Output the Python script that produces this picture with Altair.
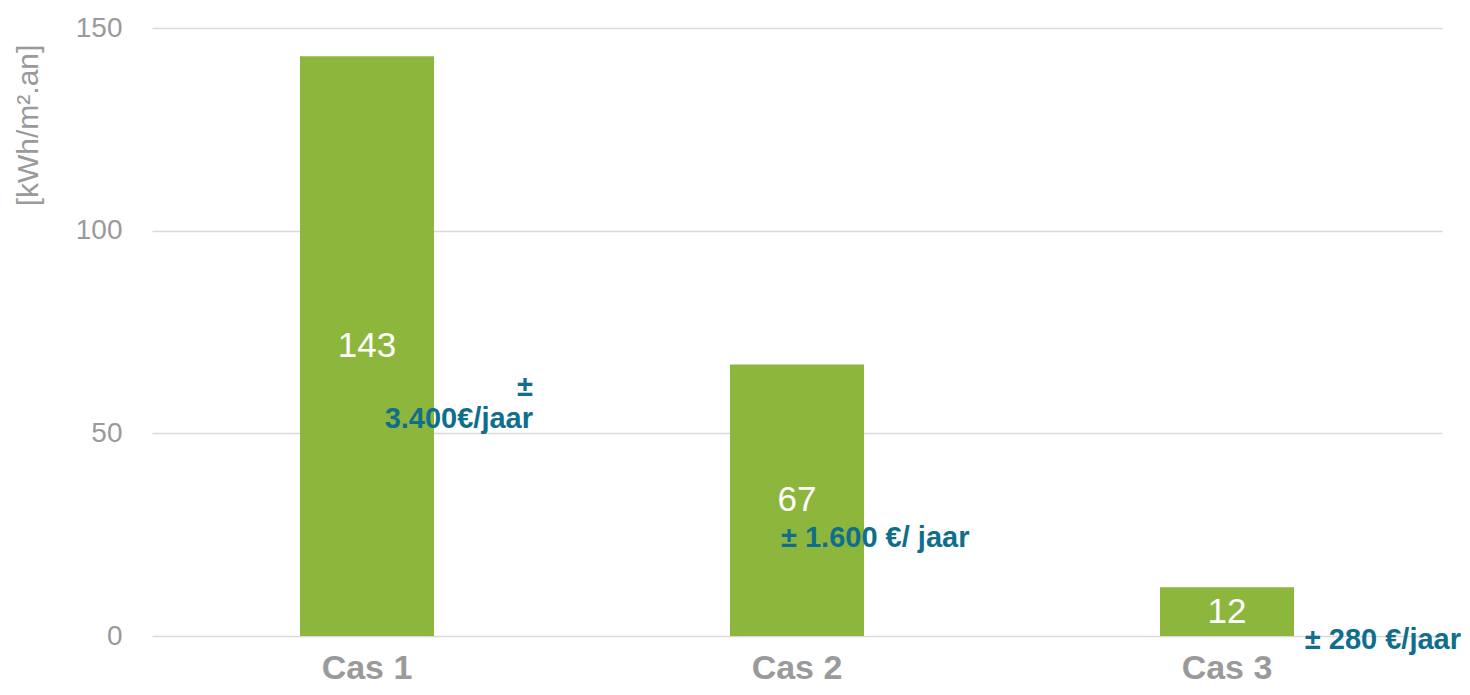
import altair as alt
import pandas as pd

cases = ["Cas 1", "Cas 2", "Cas 3"]
values = [143, 67, 12]
savings_text = [["±", "3.400€/jaar"], ["± 1.600 €/ jaar"], ["± 280 €/jaar"]]
savings_y = [61.5, 24.2, -1.0]
y_ticks = [0, 50, 100, 150]

df = pd.DataFrame({"case": cases, "value": values})

FONT = "Liberation Sans"
GREEN = "#8DB63C"
TEAL = "#106E8D"
GRAY = "#9a9a9a"

x = alt.X("case:N", sort=cases,
          scale=alt.Scale(paddingInner=0, paddingOuter=0),
          axis=alt.Axis(title=None, labelAngle=0, labelFont=FONT, labelFontSize=34,
                        labelFontWeight="bold", labelColor=GRAY, labelPadding=15,
                        domain=False, ticks=False, grid=False))

y = alt.Y("value:Q", scale=alt.Scale(domain=[0, 150], nice=False),
          axis=alt.Axis(title="[kWh/m².an]", values=y_ticks, labelFont=FONT,
                        labelFontSize=28, labelColor=GRAY, labelPadding=30,
                        domain=False, ticks=False, grid=True, gridColor="#d9d9d9",
                        gridWidth=1.5, titleFont=FONT, titleFontSize=30,
                        titleFontWeight="normal", titleColor=GRAY, titleAngle=-90,
                        titleX=-124, titleY=97, titleAlign="center",
                        titleBaseline="middle"))

bars = alt.Chart(df).mark_bar(color=GREEN, size=134).encode(x=x, y=y)

labels = alt.Chart(df).transform_calculate(mid="datum.value / 2").mark_text(
    color="white", font=FONT, fontSize=35, baseline="middle", align="center"
).encode(x=alt.X("case:N", sort=cases), y=alt.Y("mid:Q"), text=alt.Text("value:Q"))

styles = [
    dict(align="right", dx=166),
    dict(align="left", dx=-16),
    dict(align="right", dx=234),
]

ann_layers = []
for c, t, yy, st in zip(cases, savings_text, savings_y, styles):
    adf = pd.DataFrame({"case": [c], "y": [yy], "txt": [t]})
    ann_layers.append(
        alt.Chart(adf).mark_text(color=TEAL, font=FONT, fontSize=29, fontWeight="bold",
                                 baseline="middle", lineHeight=32, **st)
        .encode(x=alt.X("case:N", sort=cases), y=alt.Y("y:Q"), text="txt")
    )

chart = alt.layer(bars, labels, *ann_layers).properties(
    width=1290, height=608,
    autosize=alt.AutoSizeParams(type="none"),
    padding={"left": 144, "top": 20, "right": 20, "bottom": 51},
).configure_view(stroke=None)

chart.save("out.html", embed_options={"renderer": "svg", "actions": False})
